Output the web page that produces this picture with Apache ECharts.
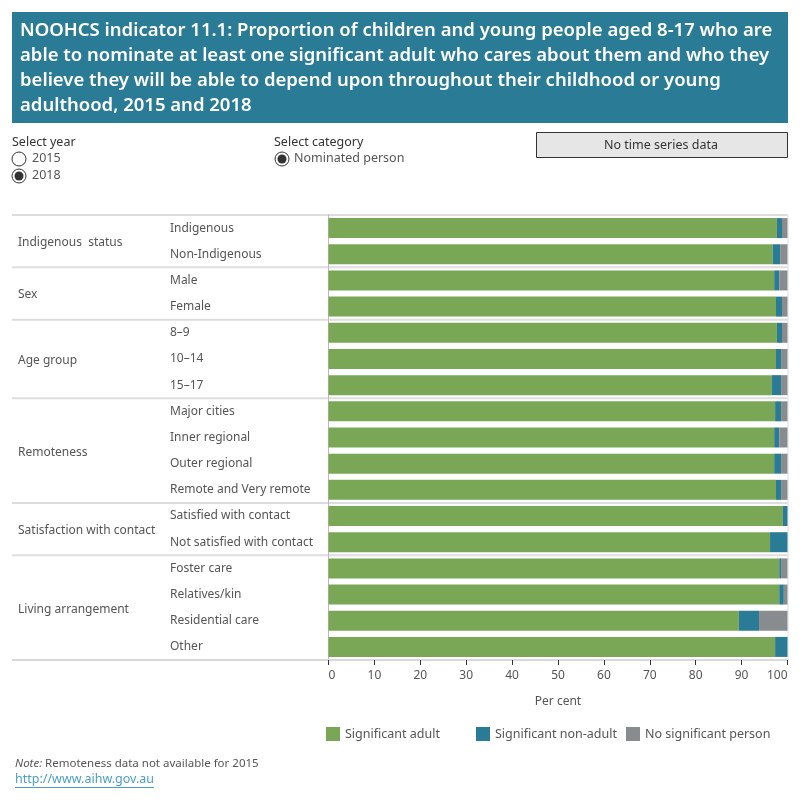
<!DOCTYPE html>
<html>
<head>
<meta charset="utf-8">
<script src="https://cdn.jsdelivr.net/npm/echarts@6/dist/echarts.min.js"></script>
<style>
  html, body { margin: 0; padding: 0; background: #fff; }
  #main { width: 800px; height: 800px; }
</style>
</head>
<body>
<div id="main"></div>
<script>
// categories, top to bottom
var categories = [
    'Indigenous', 'Non-Indigenous',
    'Male', 'Female',
    '8–9', '10–14', '15–17',
    'Major cities', 'Inner regional', 'Outer regional', 'Remote and Very remote',
    'Satisfied with contact', 'Not satisfied with contact',
    'Foster care', 'Relatives/kin', 'Residential care', 'Other'
];
var groupNames = ['Indigenous  status', 'Sex', 'Age group', 'Remoteness', 'Satisfaction with contact', 'Living arrangement'];
var groupSizes = [2, 2, 3, 4, 2, 4];

var seriesNames = ['Significant adult', 'Significant non-adult', 'No significant person'];
var adult    = [97.7, 96.8, 97.1, 97.5, 97.7, 97.5, 96.6, 97.3, 97.1, 97.1, 97.5, 99.0, 96.2, 98.2, 98.2, 89.4, 97.3];
var nonAdult = [1.1, 1.6, 1.1, 1.3, 1.1, 1.1, 2.0, 1.3, 1.1, 1.5, 1.1, 1.0, 3.8, 0.4, 1.0, 4.4, 2.7];
var noPerson = [1.2, 1.6, 1.8, 1.2, 1.2, 1.4, 1.4, 1.4, 1.8, 1.4, 1.4, 0.0, 0.0, 1.4, 0.8, 6.2, 0.0];
var xTicks = [0, 10, 20, 30, 40, 50, 60, 70, 80, 90, 100];

var colors = ['#7aa755', '#2a7b96', '#898c8f'];
var FONT = '"Noto Sans", sans-serif';

var chart = echarts.init(document.getElementById('main'));

var title = 'NOOHCS indicator 11.1: Proportion of children and young people aged 8-17 who are\n' +
    'able to nominate at least one significant adult who cares about them and who they\n' +
    'believe they will be able to depend upon throughout their childhood or young\n' +
    'adulthood, 2015 and 2018';

var option = {
    animation: false,
    textStyle: {fontFamily: FONT},
    title: {
        text: title,
        left: 20,
        top: 18,
        padding: 0,
        textStyle: {
            color: '#fff', fontSize: 18.5, fontWeight: 600, fontFamily: FONT, lineHeight: 25
        }
    },
    // one legend per series so each item sits at its own column
    legend: seriesNames.map(function (name, i) {
        return {
            left: 326 + i * 150,
            top: 727,
            padding: 0,
            itemWidth: 14,
            itemHeight: 14,
            itemGap: 0,
            icon: 'rect',
            selectedMode: false,
            data: [name],
            textStyle: {color: '#555', fontSize: 12.5, fontFamily: FONT}
        };
    }),
    grid: {left: 328.5, right: 12.5, top: 215, height: 445},
    xAxis: {
        type: 'value',
        min: xTicks[0],
        max: xTicks[xTicks.length - 1],
        interval: 10,
        name: 'Per cent',
        nameLocation: 'middle',
        nameGap: 36,
        nameTextStyle: {color: '#555', fontSize: 12},
        axisLine: {show: true, lineStyle: {color: '#d9d9d9', width: 2}},
        axisTick: {show: true, length: 5, lineStyle: {color: '#333'}},
        axisLabel: {color: '#555', fontSize: 12, margin: 10, alignMinLabel: 'left', alignMaxLabel: 'right'},
        splitLine: {show: false}
    },
    yAxis: {
        type: 'category',
        inverse: true,
        data: categories,
        axisLine: {show: true, lineStyle: {color: '#bbb', width: 1}},
        axisTick: {show: false},
        axisLabel: {align: 'left', margin: 158.5, color: '#555', fontSize: 12, padding: [5, 0, 0, 0]}
    },
    series: seriesNames.map(function (name, i) {
        return {
            name: name,
            type: 'bar',
            stack: 'total',
            barWidth: 20,
            itemStyle: {color: colors[i]},
            data: [adult, nonAdult, noPerson][i]
        };
    })
};
chart.setOption(option);

// group labels, separators and the page furniture around the chart
var graphics = [
    {type: 'rect', z: -1, shape: {x: 12, y: 12, width: 776, height: 111}, style: {fill: '#2a7b96'}},
    {type: 'text', x: 12, y: 136, style: {text: 'Select year', fill: '#333', font: '12.5px ' + FONT}},
    {type: 'circle', shape: {cx: 19, cy: 159, r: 7}, style: {fill: '#fff', stroke: '#333', lineWidth: 1}},
    {type: 'text', x: 32, y: 152, style: {text: '2015', fill: '#555', font: '12.5px ' + FONT}},
    {type: 'circle', shape: {cx: 19, cy: 176, r: 7}, style: {fill: '#fff', stroke: '#333', lineWidth: 1}},
    {type: 'circle', shape: {cx: 19, cy: 176, r: 4.5}, style: {fill: '#333'}},
    {type: 'text', x: 32, y: 169, style: {text: '2018', fill: '#555', font: '12.5px ' + FONT}},
    {type: 'text', x: 274, y: 136, style: {text: 'Select category', fill: '#333', font: '12.5px ' + FONT}},
    {type: 'circle', shape: {cx: 282, cy: 159, r: 7}, style: {fill: '#fff', stroke: '#333', lineWidth: 1}},
    {type: 'circle', shape: {cx: 282, cy: 159, r: 4.5}, style: {fill: '#333'}},
    {type: 'text', x: 294, y: 152, style: {text: 'Nominated person', fill: '#555', font: '12.5px ' + FONT}},
    {type: 'rect', shape: {x: 536.5, y: 132.5, width: 251, height: 25}, style: {fill: '#e6e6e6', stroke: '#333', lineWidth: 1}},
    {type: 'text', x: 661, y: 145, style: {text: 'No time series data', fill: '#333', font: '12.5px ' + FONT, align: 'center', verticalAlign: 'middle'}},
    {type: 'text', x: 15, y: 758, style: {
        text: '{i|Note:} Remoteness data not available for 2015',
        fill: '#555', font: '11.5px ' + FONT,
        rich: {i: {fontStyle: 'italic', fontSize: 11.5, fill: '#555', fontFamily: FONT}}
    }},
    {type: 'text', x: 15, y: 773, style: {text: 'http://www.aihw.gov.au', fill: '#4a9fc4', font: '12.5px ' + FONT}},
    {type: 'line', shape: {x1: 15, y1: 787.5, x2: 154, y2: 787.5}, style: {stroke: '#4a9fc4', lineWidth: 1}}
];

var band = chart.convertToPixel({yAxisIndex: 0}, categories[1]) - chart.convertToPixel({yAxisIndex: 0}, categories[0]);
var xLeft = 12;
var xRight = chart.convertToPixel({xAxisIndex: 0}, 100);
var yTop = chart.convertToPixel({yAxisIndex: 0}, categories[0]) - band / 2;
graphics.push({type: 'line', shape: {x1: xLeft, y1: yTop, x2: xRight, y2: yTop}, style: {stroke: '#ddd', lineWidth: 2}});
graphics.push({type: 'line', shape: {x1: xRight + 0.5, y1: yTop, x2: xRight + 0.5, y2: yTop + band * categories.length}, style: {stroke: '#ddd', lineWidth: 1}});
var start = 0;
groupNames.forEach(function (g, gi) {
    var first = chart.convertToPixel({yAxisIndex: 0}, categories[start]);
    var last = chart.convertToPixel({yAxisIndex: 0}, categories[start + groupSizes[gi] - 1]);
    graphics.push({type: 'text', x: 18, y: (first + last) / 2 + 1.5, style: {
        text: g, fill: '#555', font: '12px ' + FONT, verticalAlign: 'middle'
    }});
    var yb = last + band / 2;
    if (gi < groupNames.length - 1) {
        graphics.push({type: 'line', shape: {x1: xLeft, y1: yb, x2: xRight, y2: yb}, style: {stroke: '#ddd', lineWidth: 2}});
    } else {
        graphics.push({type: 'line', shape: {x1: xLeft, y1: yb, x2: 328.5, y2: yb}, style: {stroke: '#d9d9d9', lineWidth: 2}});
    }
    start += groupSizes[gi];
});
chart.setOption({graphic: graphics});
</script>
</body>
</html>
